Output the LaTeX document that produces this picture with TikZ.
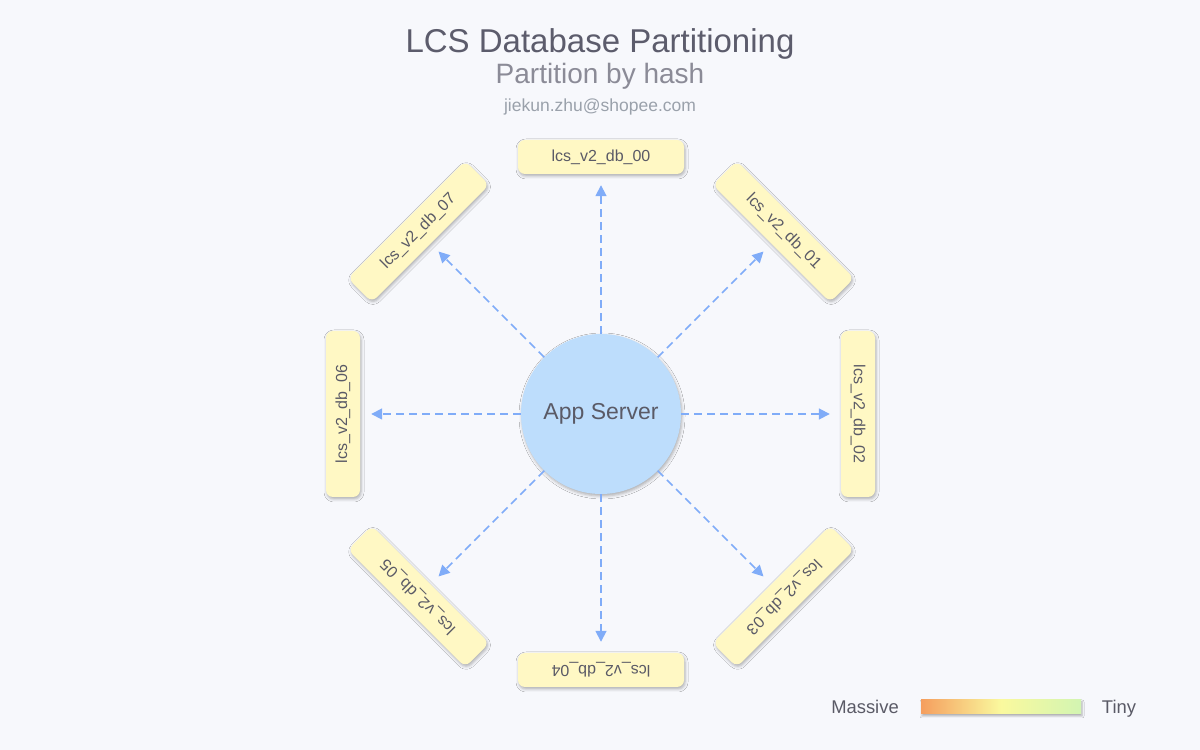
\documentclass[tikz,border=0pt]{standalone}
\usepackage{fontspec}
\setmainfont{Liberation Sans}
\usetikzlibrary{calc,arrows.meta,shadows.blur}

\definecolor{bgcol}{HTML}{F7F8FC}
\definecolor{titlecol}{HTML}{5C5C6C}
\definecolor{subcol}{HTML}{8B8B97}
\definecolor{mailcol}{HTML}{9AA1AB}
\definecolor{textcol}{HTML}{5A5A66}
\definecolor{srvfill}{HTML}{BDDDFC}
\definecolor{dbfill}{HTML}{FFF8C4}
\definecolor{linkblue}{HTML}{80ACF8}
\definecolor{massive}{HTML}{F59E5E}
\definecolor{midyel}{HTML}{FAF99E}
\definecolor{tiny}{HTML}{D2F5B2}

\tikzset{
  dbbox/.style={rectangle, rounded corners=7pt, fill=dbfill, text=textcol,
    minimum width=166pt, minimum height=34pt, inner sep=0pt,
    font=\fontsize{16}{18}\selectfont,
    blur shadow={shadow xshift=1pt, shadow yshift=-2pt, shadow opacity=30, shadow blur radius=3pt}},
  server/.style={circle, fill=srvfill, text=textcol, minimum size=160pt, inner sep=0pt,
    font=\fontsize{23}{26}\selectfont,
    blur shadow={shadow xshift=1pt, shadow yshift=-2pt, shadow opacity=30, shadow blur radius=3pt}},
  link/.style={draw=linkblue, line width=1.7pt, dash pattern=on 8pt off 5pt,
    -{Triangle[length=11pt,width=11pt]}, shorten >=11pt}
}

\begin{document}
\begin{tikzpicture}[x=1pt,y=1pt]
        \fill[bgcol] (0,0) rectangle (1200,750);
        \useasboundingbox (0,0) rectangle (1200,750);

        % titles
        \node[anchor=base, text=titlecol, font=\fontsize{33}{36}\selectfont] (title) at (600,697) {LCS Database Partitioning};
        \node[anchor=base, text=subcol, font=\fontsize{28}{31}\selectfont] (subtitle) at (600,666) {Partition by hash};
        \node[anchor=base, text=mailcol, font=\fontsize{17.5}{20}\selectfont] (mail) at (600,638.5) {jiekun.zhu@shopee.com};

        % server and databases
        \node[server] (srv) at (601,336) {App Server};
        \node[dbbox] (db00) at ($(srv)+(90:257)$) {lcs\_v2\_db\_00};
        \node[dbbox, rotate=-45] (db01) at ($(srv)+(45:258)$) {lcs\_v2\_db\_01};
        \node[dbbox, rotate=-90] (db02) at ($(srv)+(0:257)$) {lcs\_v2\_db\_02};
        \node[dbbox, rotate=-135] (db03) at ($(srv)+(-45:258)$) {lcs\_v2\_db\_03};
        \node[dbbox, rotate=180] (db04) at ($(srv)+(-90:256)$) {lcs\_v2\_db\_04};
        \node[dbbox, rotate=135] (db05) at ($(srv)+(-135:258)$) {lcs\_v2\_db\_05};
        \node[dbbox, rotate=90] (db06) at ($(srv)+(180:258)$) {lcs\_v2\_db\_06};
        \node[dbbox, rotate=45] (db07) at ($(srv)+(135:258)$) {lcs\_v2\_db\_07};

        \draw[link] (srv) -- (db00);
        \draw[link] (srv) -- (db01);
        \draw[link] (srv) -- (db02);
        \draw[link] (srv) -- (db03);
        \draw[link] (srv) -- (db04);
        \draw[link] (srv) -- (db05);
        \draw[link] (srv) -- (db06);
        \draw[link] (srv) -- (db07);

        % legend
        \node[anchor=base, text=textcol, font=\fontsize{18.4}{21}\selectfont] (lmassive) at (865,36) {Massive};
        \node[rectangle, minimum width=160pt, minimum height=14pt, inner sep=0pt,
          left color=massive, right color=tiny, middle color=midyel,
          blur shadow={shadow xshift=1pt, shadow yshift=-2pt, shadow opacity=30, shadow blur radius=2pt}] (scale) at (1001,43) {};
        \node[anchor=base, text=textcol, font=\fontsize{18.4}{21}\selectfont] (ltiny) at (1119,36) {Tiny};
    \end{tikzpicture}
\end{document}
